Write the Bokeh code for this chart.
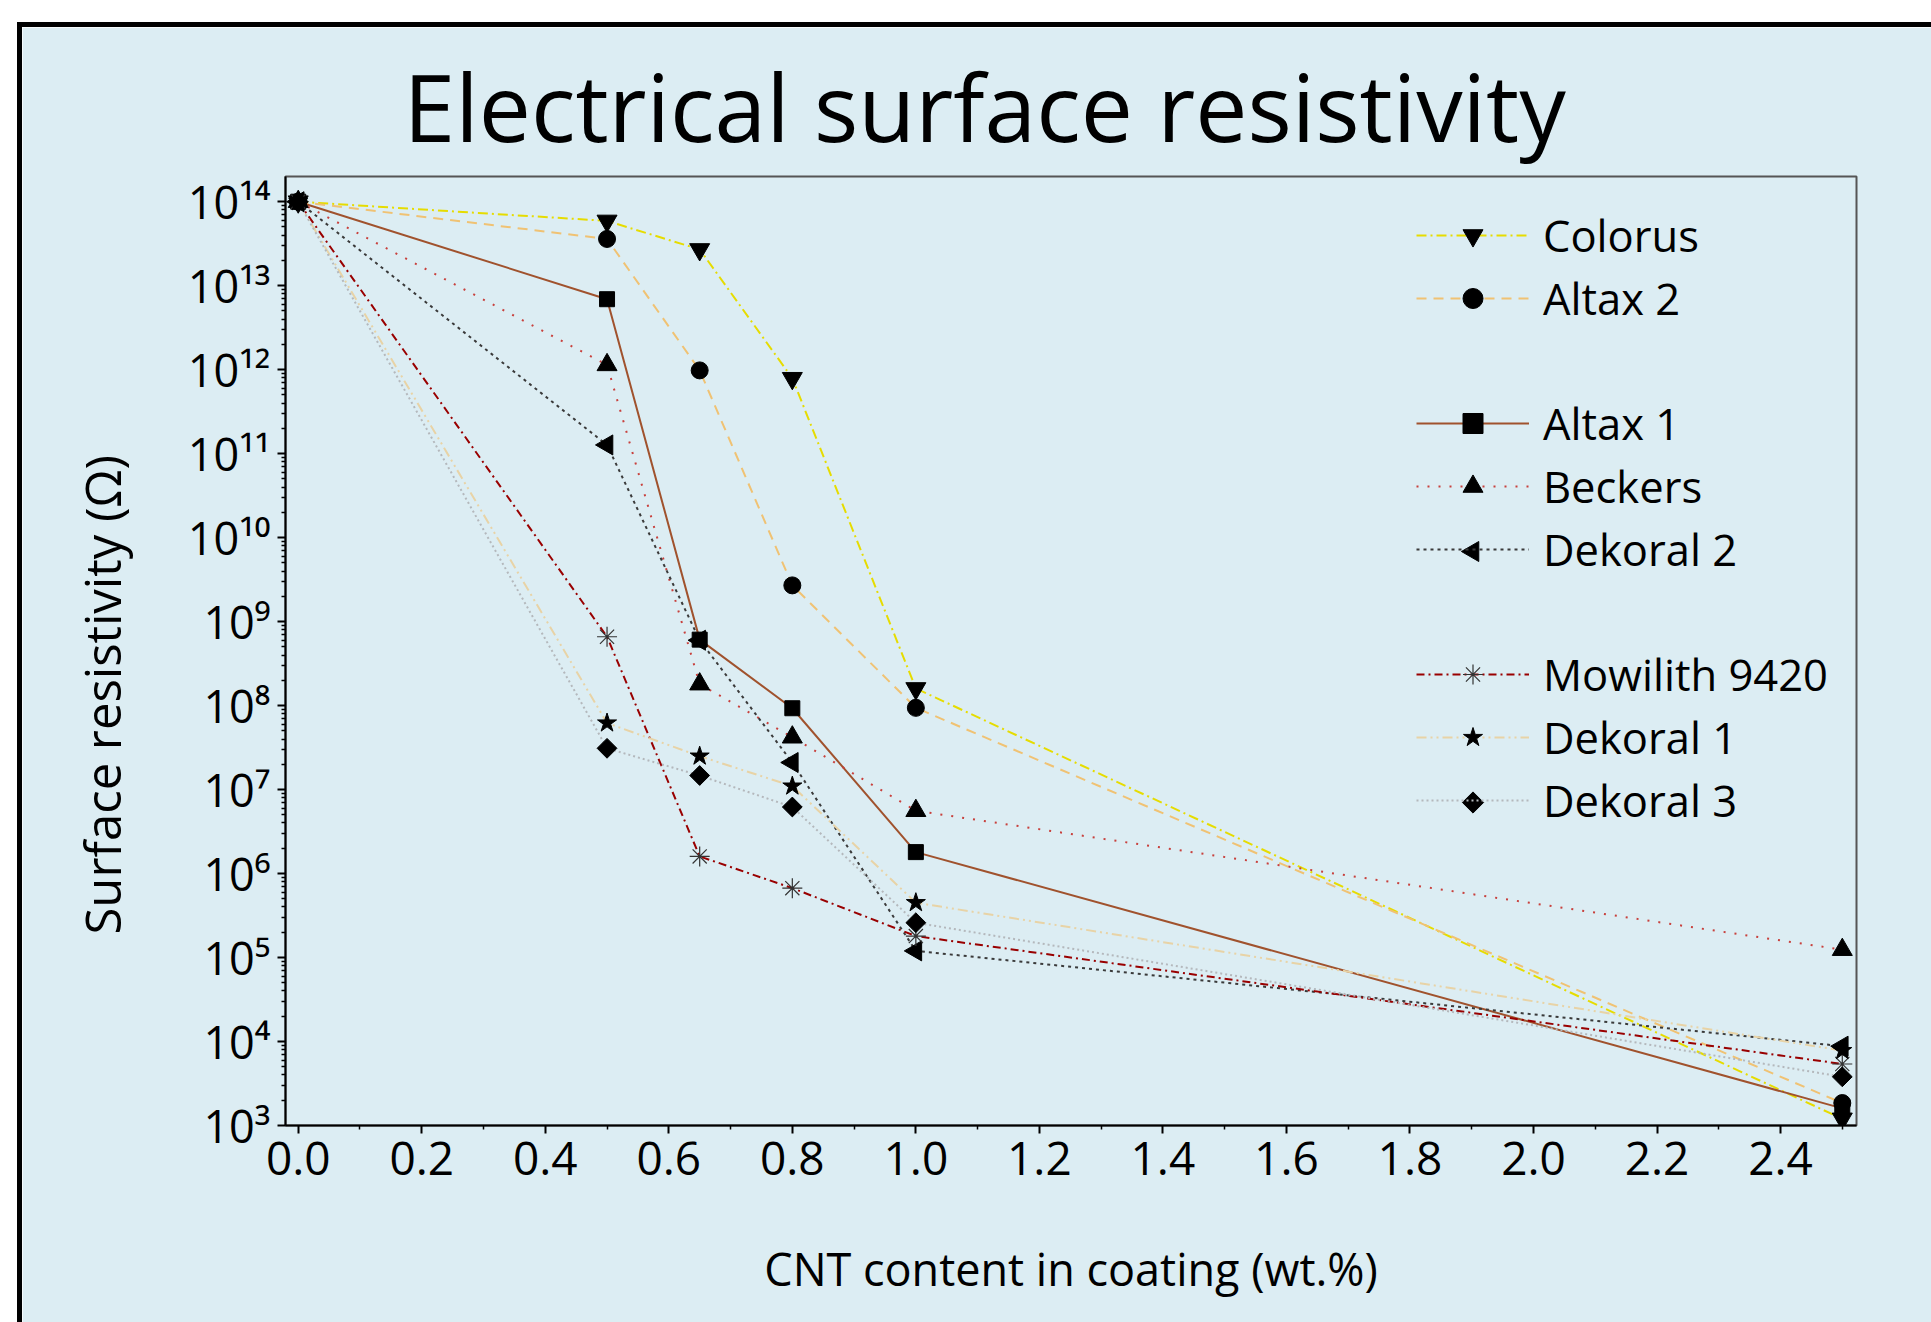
import math
from bokeh.plotting import figure
from bokeh.models import (ColumnDataSource, FixedTicker, PrintfTickFormatter,
                          Legend, LegendItem, Title, Range1d, LinearScale,
                          LinearAxis, LogAxis)
from bokeh.layouts import column
from bokeh.embed import file_html
from bokeh.resources import INLINE

# ---------------- data ----------------
cnt = [0.0, 0.5, 0.65, 0.8, 1.0, 2.5]          # CNT content (wt.%)
colorus = [1e14, 5.9e13, 2.7e13, 7.9e11, 1.6e8, 1.2e3]
altax2 = [1e14, 3.6e13, 9.8e11, 2.7e9, 9.4e7, 1.85e3]
altax1 = [1e14, 6.9e12, 6.1e8, 9.3e7, 1.8e6, 1.6e3]
beckers = [1e14, 1.14e12, 1.8e8, 4.2e7, 5.6e6, 1.24e5]
dekoral2 = [1e14, 1.27e11, 6.0e8, 2.1e7, 1.2e5, 8.8e3]
mowilith = [1e14, 6.6e8, 1.6e6, 6.7e5, 1.8e5, 5.4e3]
dekoral1 = [1e14, 6.2e7, 2.5e7, 1.1e7, 4.5e5, 7.8e3]
dekoral3 = [1e14, 3.1e7, 1.47e7, 6.2e6, 2.6e5, 3.8e3]

series_names = ["Colorus", "Altax 2", "Altax 1", "Beckers", "Dekoral 2",
                "Mowilith 9420", "Dekoral 1", "Dekoral 3"]
series_values = [colorus, altax2, altax1, beckers, dekoral2,
                 mowilith, dekoral1, dekoral3]
legend_groups = [[0, 1], [2, 3, 4], [5, 6, 7]]

x_ticks = [0.0, 0.2, 0.4, 0.6, 0.8, 1.0, 1.2, 1.4, 1.6, 1.8, 2.0, 2.2, 2.4]
x_tick_labels = ["0.0", "0.2", "0.4", "0.6", "0.8", "1.0", "1.2", "1.4",
                 "1.6", "1.8", "2.0", "2.2", "2.4"]
x_minor_ticks = [0.1, 0.3, 0.5, 0.7, 0.9, 1.1, 1.3, 1.5, 1.7, 1.9, 2.1, 2.3, 2.5]
y_tick_values = [1e3, 1e4, 1e5, 1e6, 1e7, 1e8, 1e9, 1e10, 1e11, 1e12, 1e13, 1e14]
y_tick_labels = ["10³", "10⁴", "10⁵", "10⁶", "10⁷", "10⁸", "10⁹", "10¹⁰",
                 "10¹¹", "10¹²", "10¹³", "10¹⁴"]

title_text = "Electrical surface resistivity"
x_label = "CNT content in coating (wt.%)"
y_label = "Surface resistivity (Ω)"

# ---------------- styles ----------------
styles = [
    dict(color="#e6dc00", dash="10 4 2 4", marker="inverted_triangle", size=20, angle=0.0),
    dict(color="#f0c273", dash="10 7", marker="circle", size=17, angle=0.0),
    dict(color="#a0522d", dash="solid", marker="square", size=15, angle=0.0),
    dict(color="#c8403c", dash="2 9", marker="triangle", size=20, angle=0.0),
    dict(color="#3a3a3a", dash="3 4", marker="triangle", size=20, angle=math.pi / 2),
    dict(color="#990000", dash="8 4 2 4", marker="asterisk", size=20, angle=0.0),
    dict(color="#e8d3a6", dash="10 4 2 4 2 4", marker="star", size=20, angle=0.0),
    dict(color="#b4b8bc", dash="2 3", marker="square", size=14, angle=math.pi / 4),
]

BG = "#dcedf3"
FONT = "Open Sans"
FRAME_W, FRAME_H = 1571, 949

p = figure(frame_width=FRAME_W, frame_height=FRAME_H,
           min_border_left=263, min_border_right=75,
           min_border_top=149, min_border_bottom=197,
           y_axis_type="log", title=None,
           x_range=(-0.0206, 2.523), y_range=(1e3, 10 ** 14.30),
           output_backend="svg", toolbar_location=None,
           background_fill_color=BG, border_fill_color=BG)
p.grid.visible = False
p.outline_line_color = "#555555"
p.outline_line_width = 2
# pixel-space ranges (linear) for placing legend symbols
p.extra_x_ranges = {"lgx": Range1d(0, FRAME_W)}
p.extra_y_ranges = {"lgy": Range1d(0, FRAME_H)}
p.extra_x_scales = {"lgx": LinearScale()}
p.extra_y_scales = {"lgy": LinearScale()}

# the real axes (grab them before adding any spacer axes)
xa = p.below[0]
ya = p.left[0]


def spacer_axis(cls, gap, tick):
    """An invisible axis that only reserves about `gap` pixels in a side panel."""
    return cls(ticker=FixedTicker(ticks=[tick], minor_ticks=[]),
               major_label_overrides={tick: ""},
               major_label_text_font_size="1px", major_label_standoff=0,
               major_tick_out=gap, major_tick_in=0, minor_tick_out=0, minor_tick_in=0,
               axis_line_alpha=0, major_tick_line_alpha=0, minor_tick_line_alpha=0,
               major_label_text_alpha=0)


# title: spacer between frame and title, then the title itself
p.add_layout(spacer_axis(LinearAxis, 8, 1.0), "above")
p.add_layout(Title(text=title_text, align="left", offset=118, standoff=0,
                   vertical_align="bottom", text_font=FONT, text_font_size="93px",
                   text_font_style="normal", text_color="black"), "above")

# axes
xa.ticker = FixedTicker(ticks=x_ticks, minor_ticks=x_minor_ticks)
xa.formatter = PrintfTickFormatter(format="%.1f")
xa.major_label_overrides = {float(t): l for t, l in zip(x_ticks, x_tick_labels)}
y_minor = [float(m * 10 ** k) for k in range(3, 15) for m in range(2, 10)]
ya.ticker = FixedTicker(ticks=[float(v) for v in y_tick_values], minor_ticks=y_minor)
ya.major_label_overrides = {float(v): l for v, l in zip(y_tick_values, y_tick_labels)}

for ax in (xa, ya):
    ax.axis_line_color = "black"
    ax.axis_line_width = 2
    ax.major_tick_line_color = "black"
    ax.major_tick_line_width = 2
    ax.minor_tick_line_color = "black"
    ax.minor_tick_line_width = 1.5
    ax.major_tick_in = 0
    ax.major_tick_out = 8
    ax.minor_tick_in = 0
    ax.minor_tick_out = 4
    ax.major_label_text_font = FONT
    ax.major_label_text_color = "black"
xa.major_label_text_font_size = "46px"
ya.major_label_text_font_size = "45px"
xa.major_label_standoff = 8
ya.major_label_standoff = 7

xa.axis_label = x_label
xa.axis_label_text_font = FONT
xa.axis_label_text_font_size = "45px"
xa.axis_label_text_font_style = "normal"
xa.axis_label_text_color = "black"
xa.axis_label_standoff = 60

# y axis title: spacer then title on the left
p.add_layout(spacer_axis(LogAxis, 48, 1e8), "left")
p.add_layout(Title(text=y_label, align="left", offset=191, standoff=4,
                   vertical_align="bottom", text_font=FONT, text_font_size="49px",
                   text_font_style="normal", text_color="black"), "left")

# data
src = ColumnDataSource(dict(x=cnt, **{f"s{i}": v for i, v in enumerate(series_values)}))
line_rs, mark_rs = [], []
for i, st in enumerate(styles):
    lr = p.line("x", f"s{i}", source=src, line_color=st["color"], line_width=2,
                line_dash=st["dash"])
    line_rs.append(lr)
for i, st in enumerate(styles):
    if st["marker"] == "asterisk":
        mr = p.scatter("x", f"s{i}", source=src, marker="asterisk", size=st["size"],
                       line_color="#333333", line_width=1.2)
    else:
        mr = p.scatter("x", f"s{i}", source=src, marker=st["marker"], size=st["size"],
                       angle=st["angle"], fill_color="black", line_color="black")
    mark_rs.append(mr)

# legends (three groups)
row_h = 63
lg_x = 1131
glyph_w = 113
group_first_centers = [59, 247, 498]   # row centres, px below frame top
rotated_syms = {"x": [], "y": [], "marker": [], "angle": [], "size": []}
for grp, c0 in zip(legend_groups, group_first_centers):
    items = []
    for k, i in enumerate(grp):
        st = styles[i]
        if st["angle"] != 0.0:
            items.append(LegendItem(label=series_names[i], renderers=[line_rs[i]]))
            rotated_syms["x"].append(lg_x + glyph_w / 2)
            rotated_syms["y"].append(FRAME_H - (c0 + row_h * k + 2))
            rotated_syms["marker"].append(st["marker"])
            rotated_syms["angle"].append(st["angle"])
            rotated_syms["size"].append(st["size"] if st["marker"] != "square" else 15)
        else:
            items.append(LegendItem(label=series_names[i],
                                    renderers=[line_rs[i], mark_rs[i]]))
    bottom = c0 + row_h * (len(grp) - 1) + row_h / 2
    lg = Legend(items=items, location=(lg_x, FRAME_H - bottom),
                orientation="vertical", padding=0, margin=0, spacing=0,
                glyph_width=glyph_w, glyph_height=50, label_height=row_h,
                label_standoff=14, label_text_font=FONT,
                label_text_font_size="43.5px", label_text_color="black",
                border_line_alpha=0, background_fill_alpha=0)
    p.add_layout(lg)

sym_src = ColumnDataSource(rotated_syms)
p.scatter("x", "y", source=sym_src, marker="marker", angle="angle", size="size",
          fill_color="black", line_color="black",
          x_range_name="lgx", y_range_name="lgy", level="overlay")

layout = column(p, styles={"margin-left": "17px", "margin-top": "22px",
                           "border-left": "5px solid black",
                           "border-top": "5px solid black"})

open("out.html", "w").write(file_html(layout, INLINE))
